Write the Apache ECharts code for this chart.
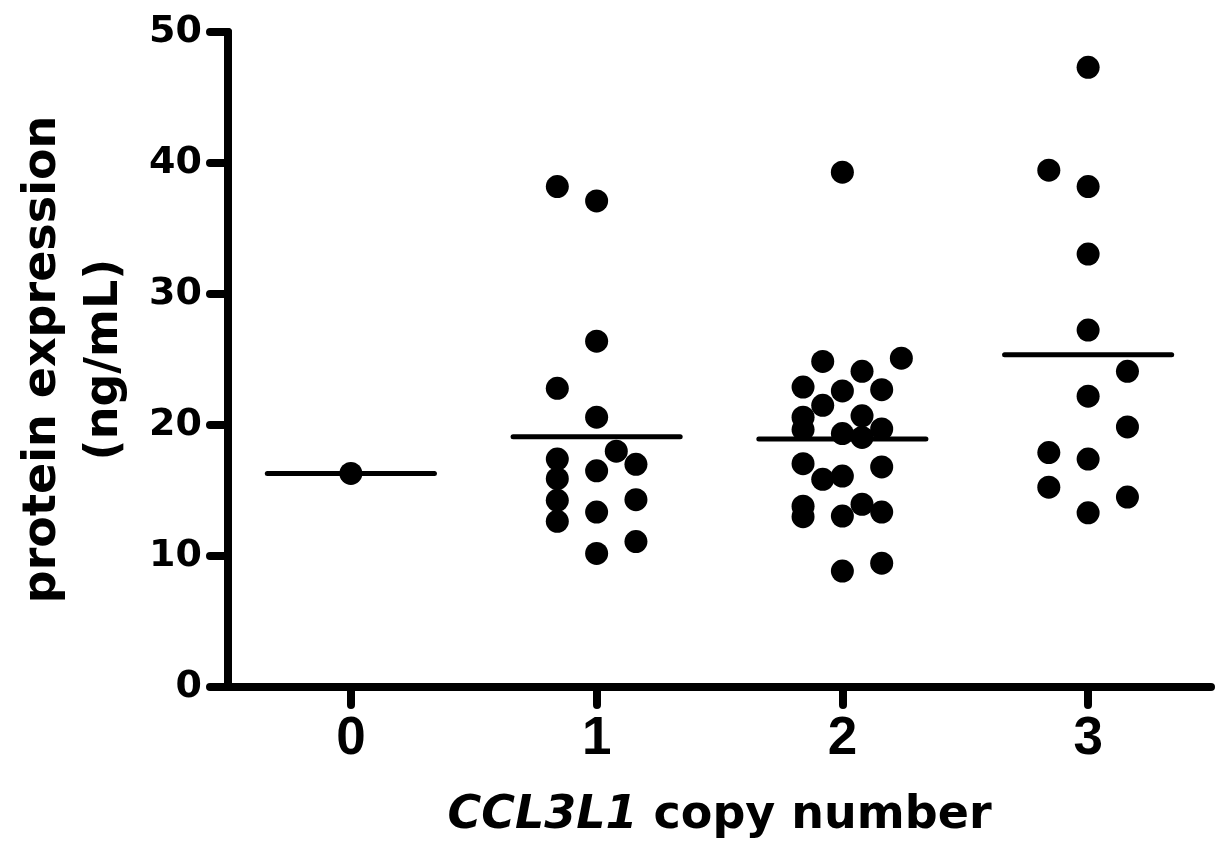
<!DOCTYPE html>
<html>
<head>
<meta charset="utf-8">
<style>
  html, body { margin: 0; padding: 0; background: #ffffff; }
  #chart { width: 1220px; height: 852px; }
</style>
<script src="https://cdn.jsdelivr.net/npm/echarts@6/dist/echarts.min.js"></script>
</head>
<body>
<div id="chart"></div>
<script>
// Copy-number groups shown on the x axis
const copyNumbers = [0, 1, 2, 3];
const yTicks = [0, 10, 20, 30, 40, 50];

// Protein expression (ng/mL) per donor, one array per copy-number group
const group0 = [16.3];
const group1 = [38.2, 37.1, 26.4, 22.8, 20.6, 18.0, 17.0, 17.4, 15.9, 16.5,
                14.25, 14.3, 12.65, 13.35, 11.1, 10.2];
const group2 = [39.3, 24.85, 25.1, 24.1, 22.9, 22.6, 22.7, 21.5, 20.6, 20.7,
                19.65, 19.35, 19.7, 19.05, 17.05, 15.85, 16.1, 16.8, 13.8, 13.0,
                13.05, 13.95, 13.35, 8.85, 9.45];
const group3 = [47.3, 39.45, 38.2, 33.05, 27.25, 24.1, 22.2, 19.85, 17.9, 17.4,
                15.25, 14.5, 13.3];

// Column slot of each dot inside its group (dot-plot spreading of overlapping values)
const slots0 = [0];
const slots1 = [-2, 0, 0, -2, 0, 1, 2, -2, -2, 0, -2, 2, -2, 0, 2, 0];
const slots2 = [0, -1, 3, 1, -2, 0, 2, -1, -2, 1, -2, 0, 2, 1, -2, -1, 0, 2, -2, -2,
                0, 1, 2, 0, 2];
const slots3 = [0, -2, 0, 0, 0, 2, 0, 2, -2, 0, -2, 2, 0];

const groups = [group0, group1, group2, group3];
const slots = [slots0, slots1, slots2, slots3];

const SLOT_WIDTH = 0.08;     // x-axis units between dot columns
const MEAN_HALF = 0.34;      // half length of the mean bar, x-axis units

const mean = arr => arr.reduce((a, b) => a + b, 0) / arr.length;

const dots = [];
groups.forEach((vals, g) => {
  vals.forEach((v, i) => dots.push([copyNumbers[g] + slots[g][i] * SLOT_WIDTH, v]));
});
const means = groups.map((vals, g) => [copyNumbers[g], mean(vals)]);

const chart = echarts.init(document.getElementById('chart'), null, { renderer: 'canvas' });

const axisStroke = { color: '#000', width: 8, cap: 'round' };

chart.setOption({
  animation: false,
  backgroundColor: '#ffffff',
  grid: { left: 228, right: 9, top: 32, bottom: 165, containLabel: false },
  xAxis: {
    type: 'value',
    min: -0.5,
    max: 3.5,
    name: '{i|CCL3L1} copy number',
    nameLocation: 'middle',
    nameGap: 106,
    nameTextStyle: {
      fontFamily: 'DejaVu Sans',
      fontWeight: 'bold',
      fontSize: 46,
      color: '#000',
      rich: {
        i: { fontFamily: 'DejaVu Sans', fontWeight: 'bold', fontStyle: 'italic', fontSize: 46, color: '#000' }
      }
    },
    axisLine: { show: true, onZero: false, lineStyle: axisStroke },
    axisTick: { show: true, inside: false, length: 18, customValues: copyNumbers, lineStyle: axisStroke },
    axisLabel: {
      show: true,
      customValues: copyNumbers,
      margin: 26,
      fontFamily: 'Liberation Sans',
      fontWeight: 'bold',
      fontSize: 53,
      color: '#000',
      formatter: v => String(v)
    },
    splitLine: { show: false }
  },
  yAxis: {
    type: 'value',
    min: 0,
    max: 50,
    interval: 10,
    name: 'protein expression\n(ng/mL)',
    nameLocation: 'middle',
    nameRotate: 90,
    nameGap: 92,
    nameTextStyle: {
      fontFamily: 'DejaVu Sans',
      fontWeight: 'bold',
      fontSize: 46,
      lineHeight: 62,
      color: '#000'
    },
    axisLine: { show: true, onZero: false, lineStyle: axisStroke },
    axisTick: { show: true, inside: false, length: 18, lineStyle: axisStroke },
    axisLabel: {
      margin: 26,
      fontFamily: 'DejaVu Sans',
      fontWeight: 'bold',
      fontSize: 38,
      color: '#000',
      formatter: v => (yTicks.indexOf(v) >= 0 ? String(v) : '')
    },
    splitLine: { show: false }
  },
  series: [
    {
      type: 'scatter',
      data: dots,
      symbol: 'circle',
      symbolSize: 23,
      itemStyle: { color: '#000', opacity: 1 },
      z: 3
    },
    {
      type: 'custom',
      data: means,
      z: 4,
      renderItem: (params, api) => {
        const x = api.value(0);
        const y = api.value(1);
        const p1 = api.coord([x - MEAN_HALF, y]);
        const p2 = api.coord([x + MEAN_HALF, y]);
        return {
          type: 'line',
          shape: { x1: p1[0], y1: p1[1], x2: p2[0], y2: p2[1] },
          style: { stroke: '#000', lineWidth: 5, lineCap: 'round' }
        };
      }
    }
  ]
});
</script>
</body>
</html>
